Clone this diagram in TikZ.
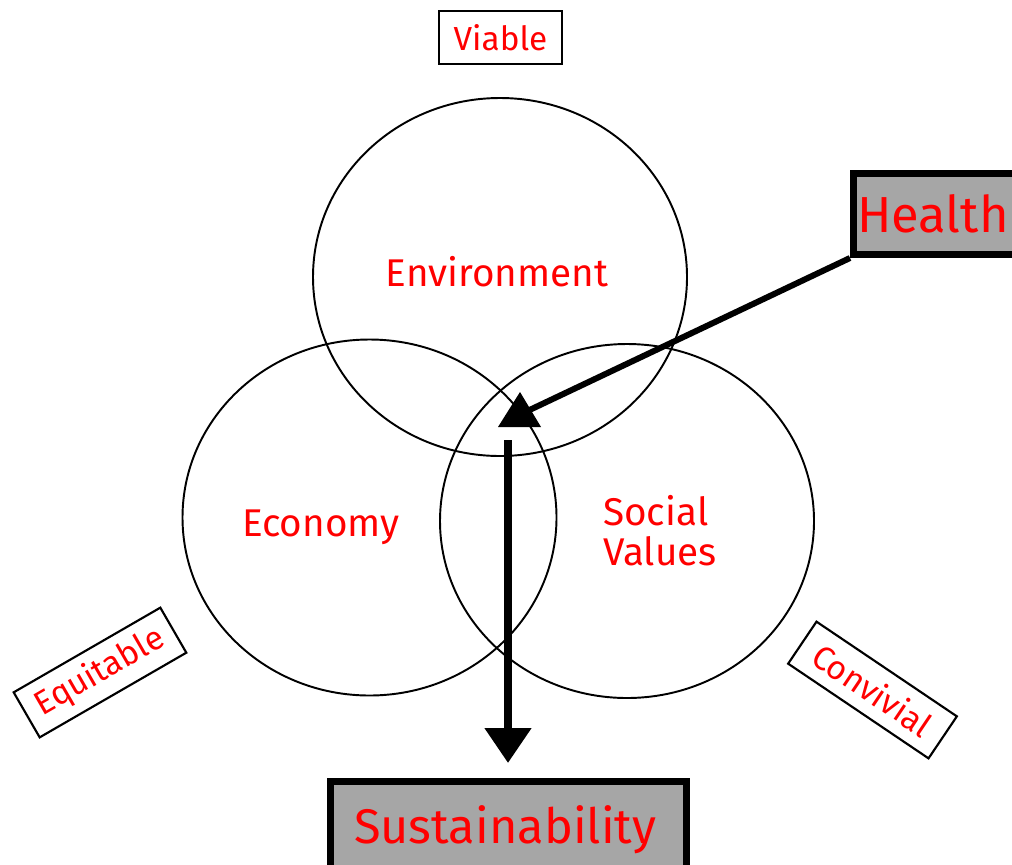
\documentclass[tikz,border=0pt]{standalone}
\usepackage{fontspec}
\setmainfont{Fira Sans}
\usetikzlibrary{arrows.meta}
\definecolor{boxgray}{HTML}{A6A6A6}
\begin{document}
\begin{tikzpicture}[x=0.75pt,y=-0.75pt,
  lbl/.style={text=red, inner sep=0, anchor=base},
  midtxt/.style={lbl, font=\fontsize{29}{34}\selectfont},
  bigtxt/.style={lbl, font=\fontsize{38}{44}\selectfont},
  smalltxt/.style={text=red, font=\fontsize{25}{30}\selectfont},
  thinbox/.style={draw, line width=1.6pt, inner sep=0, minimum width=127pt, minimum height=39pt},
  bigbox/.style={draw, fill=boxgray, line width=5.25pt, inner sep=0},
  ring/.style={draw, line width=1.45pt},
  fat/.style={line width=4.5pt},
]
\clip (0,0) rectangle (1012,864);
\useasboundingbox (0,0) rectangle (1012,864);

% circles
\draw[ring] (500,277) ellipse [x radius=187, y radius=179];
\draw[ring] (369.5,517.5) ellipse [x radius=187, y radius=178];
\draw[ring] (627,521) ellipse [x radius=187, y radius=177];

% circle labels
\node[midtxt] (env) at (497,286) {Environment};
\node[midtxt] (eco) at (321,536) {Economy};
\node[midtxt, anchor=base west] (soc1) at (603,525) {Social};
\node[midtxt, anchor=base west] (soc2) at (603,565) {Values};

% small boxes
\node[thinbox, smalltxt, minimum width=92pt, minimum height=40pt] (viable) at (500.5,37.5) {Viable};
\node[thinbox, smalltxt, rotate=30] (equit) at (100,672.5) {Equitable};
\node[thinbox, smalltxt, rotate=-34, minimum height=38pt] (conv) at (872.5,690) {Convivial};

% big boxes
\node[bigbox, anchor=north west, minimum width=127.5pt, minimum height=60.75pt] (healthbox) at (850,170) {};
\node[bigtxt] (health) at (933,232) {Health};
\node[bigbox, anchor=north west, minimum width=267pt, minimum height=70pt] (susbox) at (327,778) {};
\node[bigtxt, font=\fontsize{36.5}{44}\selectfont] (sus) at (505,843) {Sustainability};

% arrow from Health
\coordinate (tipH) at (519,415);
\draw[fat] (healthbox.south west) -- (tipH);
\fill (520,392) -- (541,427) -- (498,427) -- cycle;

% arrow down to Sustainability
\coordinate (startS) at (508,440);
\draw[line width=6pt, -{Triangle[width=33.75pt,length=26.25pt]}] (startS) -- ([yshift=11.25pt]susbox.north -| startS);
\end{tikzpicture}
\end{document}
